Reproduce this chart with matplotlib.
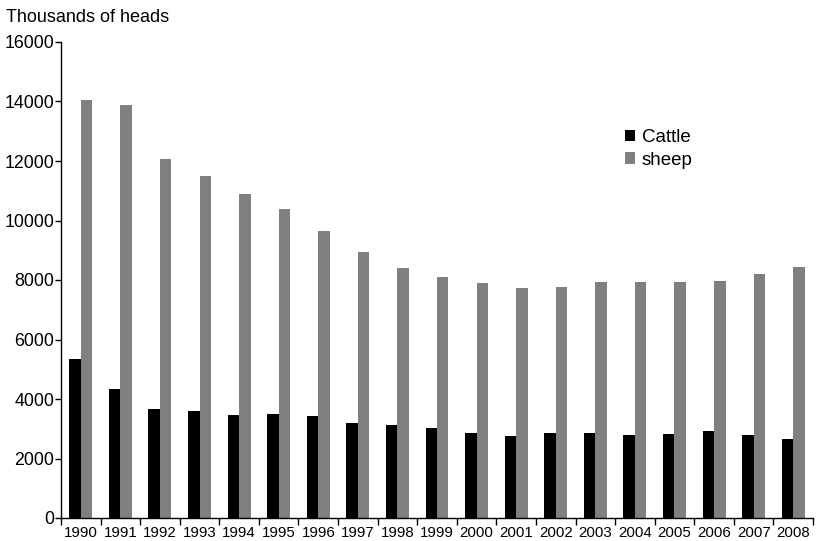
import matplotlib
matplotlib.use("Agg")
import matplotlib.pyplot as plt
import numpy as np
from matplotlib.ticker import FixedLocator

years = [str(y) for y in range(1990, 2009)]
cattle = [5360, 4340, 3660, 3590, 3460, 3480, 3420, 3210, 3120, 3030,
          2850, 2770, 2860, 2870, 2790, 2840, 2910, 2800, 2660]
sheep = [14050, 13880, 12060, 11490, 10890, 10370, 9655, 8930, 8400, 8100,
         7890, 7730, 7765, 7945, 7920, 7945, 7965, 8200, 8445]
yticks = [0, 2000, 4000, 6000, 8000, 10000, 12000, 14000, 16000]

plt.rcParams['font.family'] = ['Liberation Sans', 'DejaVu Sans']

fig = plt.figure(figsize=(8.18, 5.41), dpi=100)
ax = fig.add_axes([61/818, 23/541, 752/818, 476/541])

x = np.arange(len(years))
w = 0.29
ax.bar(x - w/2, cattle, width=w, color='black', label='Cattle')
ax.bar(x + w/2, sheep, width=w, color='#808080', label='sheep')

ax.set_xlim(-0.5, len(years) - 0.5)
ax.set_ylim(0, 16000)
ax.set_yticks(yticks)
ax.set_yticklabels([str(t) for t in yticks], fontsize=12.8)
ax.set_xticks(x)
ax.set_xticklabels(years, fontsize=10.8)
ax.xaxis.set_minor_locator(FixedLocator(np.arange(-0.5, len(years), 1.0)))
ax.tick_params(axis='x', which='major', length=0, pad=6)
ax.tick_params(axis='x', which='minor', length=5, width=1, direction='out')
ax.tick_params(axis='y', length=4, width=1, direction='out', pad=1)

for s in ['top', 'right']:
    ax.spines[s].set_visible(False)
for s in ['left', 'bottom']:
    ax.spines[s].set_linewidth(1)

fig.text(6/818, 1 - 18/541, 'Thousands of heads', fontsize=13, va='center', ha='left')

ax.legend(loc='upper left', bbox_to_anchor=((625 - 61)/752, (518 - 129)/476),
          frameon=False, fontsize=13.5, handlelength=0.55, handleheight=0.55,
          handletextpad=0.35, labelspacing=0.3, borderaxespad=0, borderpad=0)

fig.savefig('out.png', dpi=100)
